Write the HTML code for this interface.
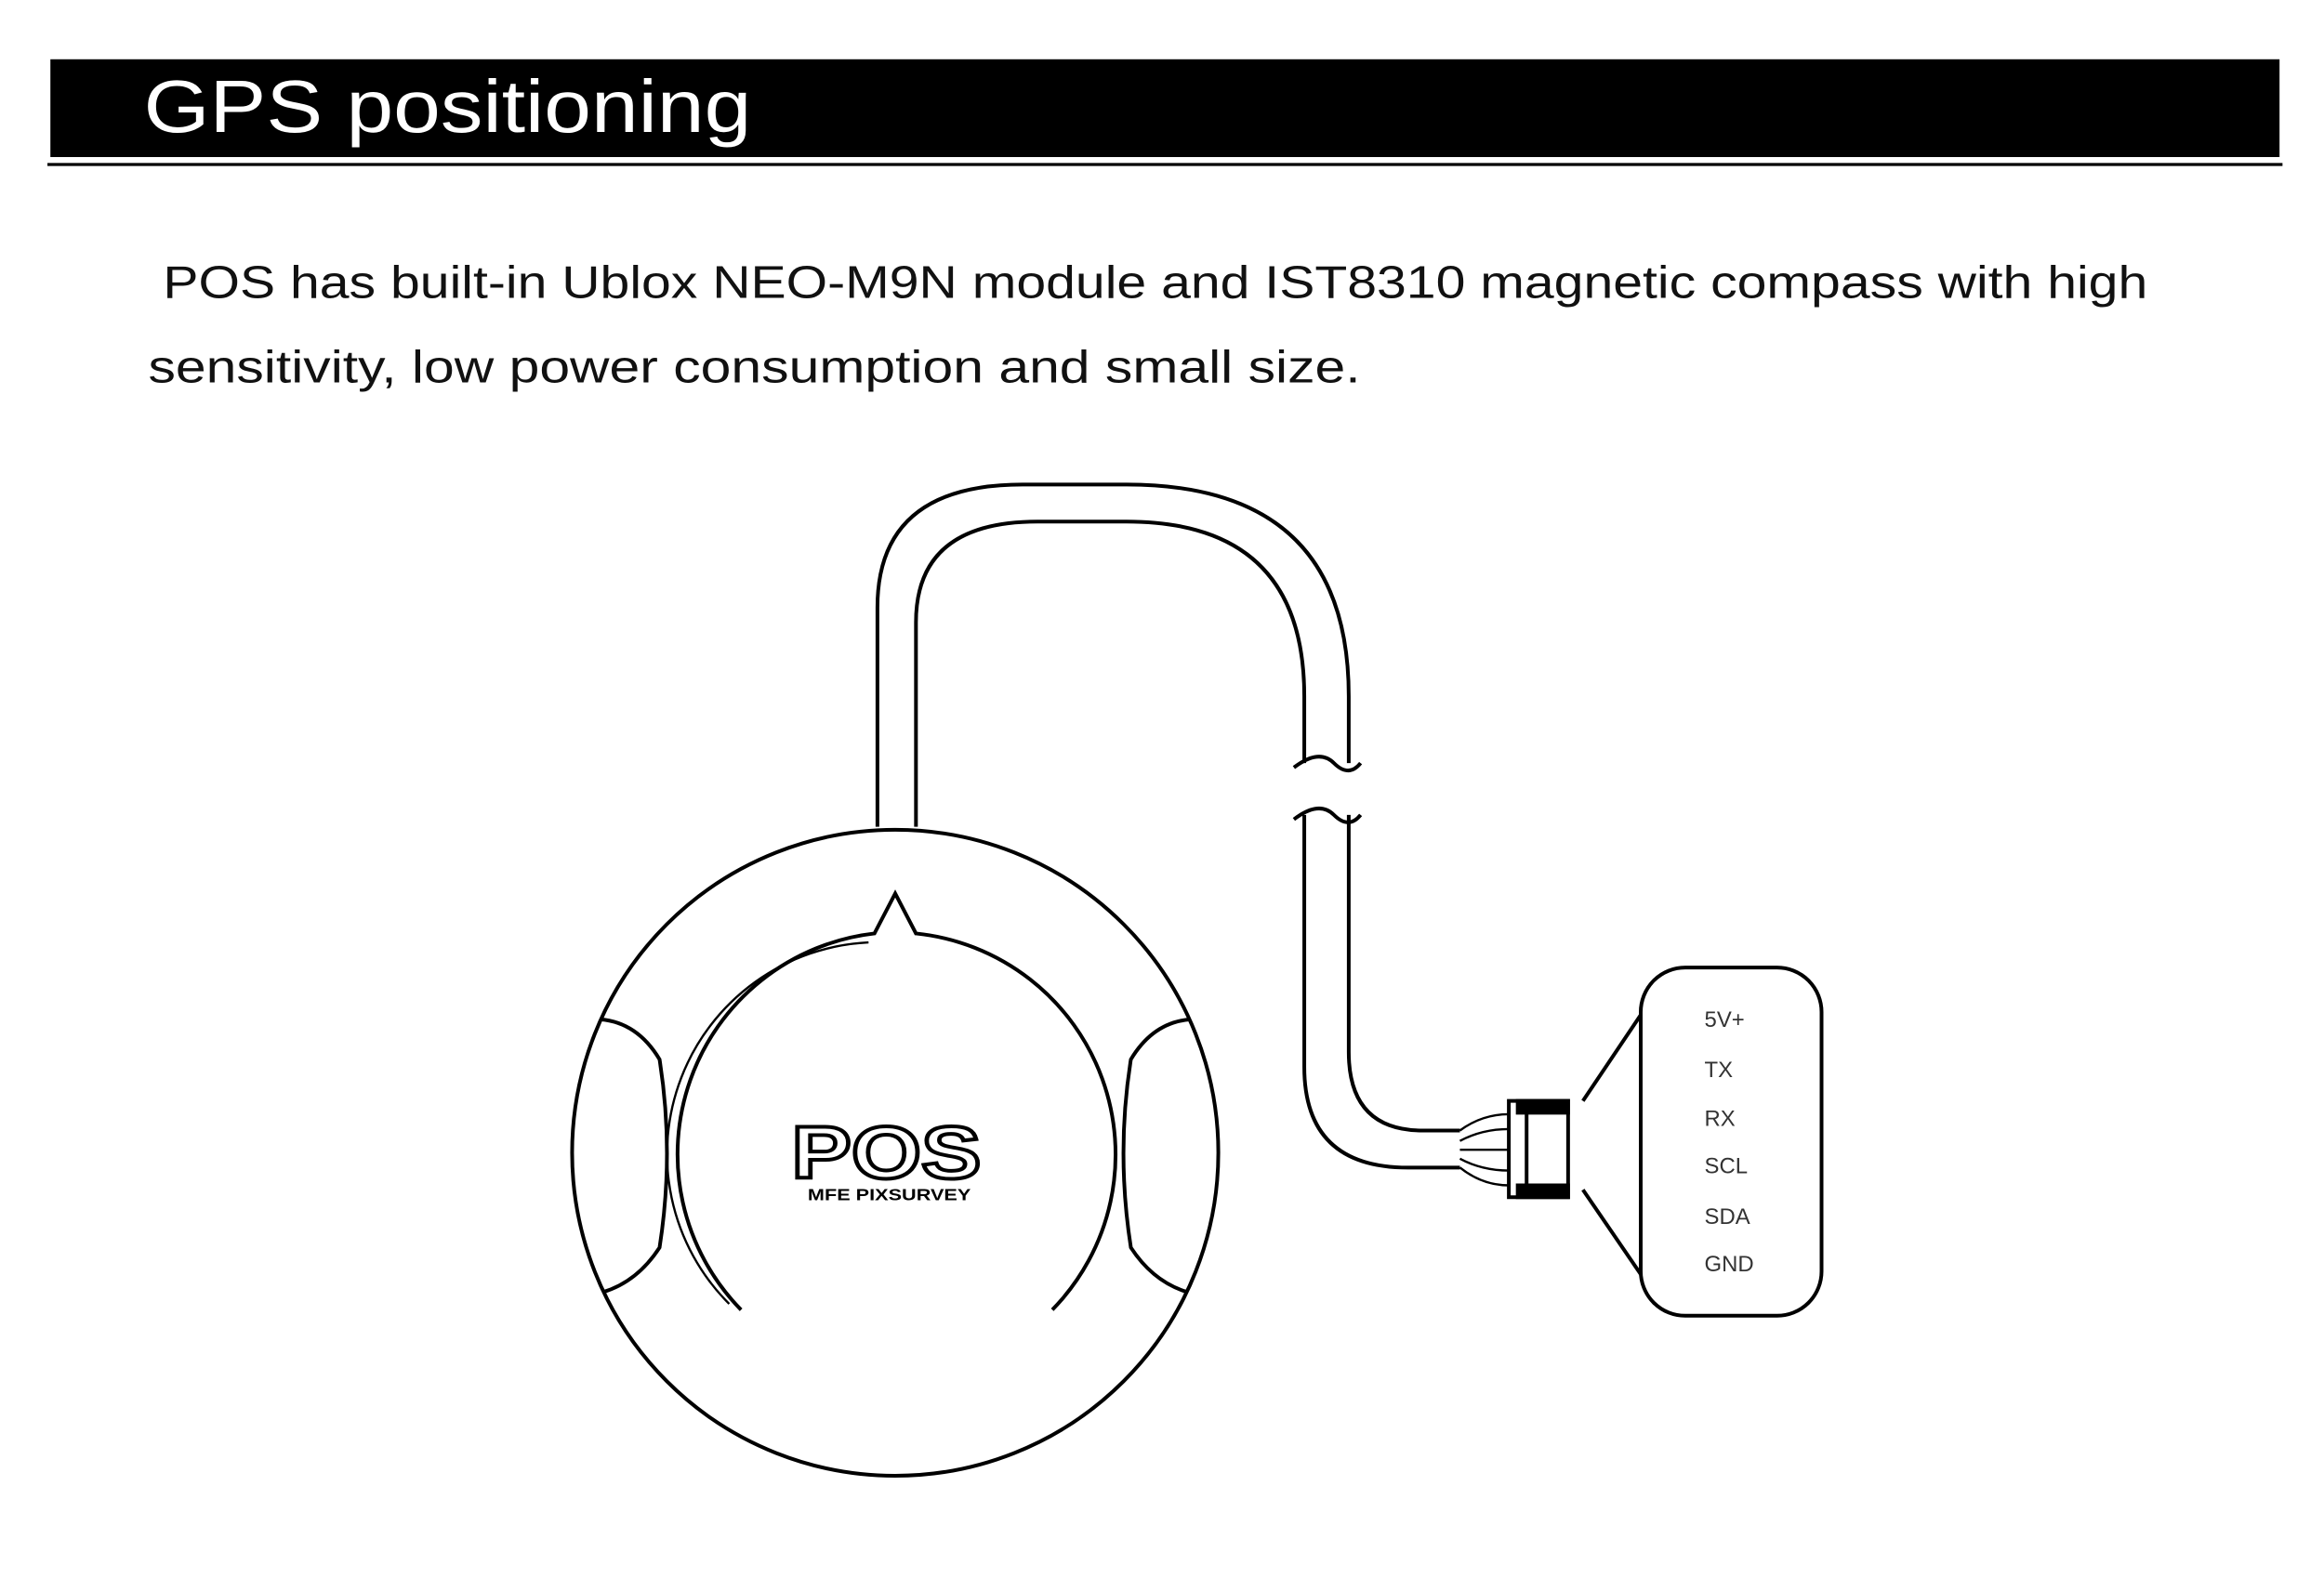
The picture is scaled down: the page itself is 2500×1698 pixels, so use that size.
<!DOCTYPE html>
<html><head><meta charset="utf-8"><style>html,body{margin:0;padding:0;background:#fff}svg{display:block}</style></head><body>
<svg width="2500" height="1698" viewBox="0 0 1568 1065" preserveAspectRatio="none" xmlns="http://www.w3.org/2000/svg">
<rect x="34" y="40" width="1504" height="66" fill="#000"/>
<line x1="32" y1="111" x2="1540" y2="111" stroke="#000" stroke-width="2"/>
<text x="97" y="89" font-family="Liberation Sans, sans-serif" font-size="50" fill="#fff" textLength="410" lengthAdjust="spacingAndGlyphs">GPS positioning</text>
<text x="110" y="201" font-family="Liberation Sans, sans-serif" font-size="31" fill="#111" textLength="1339" lengthAdjust="spacingAndGlyphs">POS has built-in Ublox NEO-M9N module and IST8310 magnetic compass with high</text>
<text x="100" y="258" font-family="Liberation Sans, sans-serif" font-size="31" fill="#111" textLength="818" lengthAdjust="spacingAndGlyphs">sensitivity, low power consumption and small size.</text>
<g fill="none" stroke="#000" stroke-width="2.5">
<path d="M592 558 V410 Q592 327 690 327 H760 Q910 327 910 470 V515"/>
<path d="M618 558 V420 Q618 352 700 352 H760 Q880 352 880 470 V515"/>
<path d="M873 518 Q890 505 900 515 Q910 525 918 515"/>
<path d="M873 553 Q890 540 900 550 Q910 560 918 550"/>
<path d="M910 550 V710 Q910 763 960 763 H985"/>
<path d="M880 550 V720 Q880 788 950 788 H985"/>
<path d="M985 763 Q1000 752 1018 752 M985 770 Q1000 762 1018 762 M985 776 H1018 M985 782 Q1000 790 1018 790 M985 788 Q1000 800 1018 800" stroke-width="1.5"/>
<rect x="1018" y="743" width="40" height="65" fill="#fff"/>
<rect x="1024" y="743" width="34" height="8" fill="#000"/>
<rect x="1024" y="800" width="34" height="8" fill="#000"/>
<line x1="1030" y1="751" x2="1030" y2="800"/>
<line x1="1068" y1="743" x2="1107" y2="685"/>
<line x1="1068" y1="803" x2="1107" y2="860"/>
<rect x="1107" y="653" width="122" height="235" rx="30"/>
<circle cx="604" cy="778" r="218"/>
<path d="M500 884 A150 150 0 0 1 590 630 L604 603 L618 630 A150 150 0 0 1 710 884"/>
<path d="M492 880 A143 143 0 0 1 586 636" stroke-width="1.5"/>
<path d="M405 688 Q430 690 445 715 Q455 778 445 842 Q430 865 407 872"/>
<path d="M803 688 Q778 690 763 715 Q753 778 763 842 Q778 865 801 872"/>
</g>
<text x="598" y="795" text-anchor="middle" font-family="Liberation Sans, sans-serif" font-weight="bold" font-size="50" fill="#fff" stroke="#000" stroke-width="2.5" textLength="128" lengthAdjust="spacingAndGlyphs">POS</text>
<text x="600" y="810" text-anchor="middle" font-family="Liberation Sans, sans-serif" font-weight="bold" font-size="11" fill="#000" textLength="110" lengthAdjust="spacingAndGlyphs">MFE PIXSURVEY</text>
<g font-family="Liberation Sans, sans-serif" font-size="15" fill="#333">
<text x="1150" y="693">5V+</text><text x="1150" y="727">TX</text><text x="1150" y="760">RX</text>
<text x="1150" y="792">SCL</text><text x="1150" y="826">SDA</text><text x="1150" y="858">GND</text>
</g>
</svg>
</body></html>
